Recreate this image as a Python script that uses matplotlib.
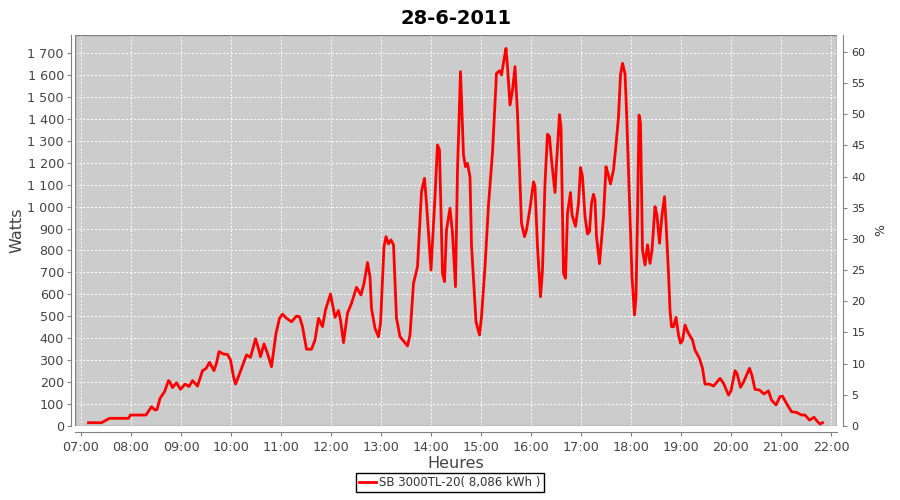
import matplotlib
matplotlib.use('Agg')
import matplotlib.pyplot as plt
from matplotlib.ticker import FuncFormatter, MultipleLocator

plt.rcParams['font.family'] = ['DejaVu Sans']

titre = '28-6-2011'
serie = 'SB 3000TL-20( 8,086 kWh )'

# heures decimales / watts
heures = [7.15, 7.41, 7.57, 7.95, 7.99, 8.30, 8.41, 8.48, 8.52, 8.58, 8.67, 8.75, 8.78,
          8.83, 8.91, 8.99, 9.08, 9.16, 9.23, 9.33, 9.43, 9.50, 9.57, 9.66, 9.71, 9.76,
          9.85, 9.93, 9.99, 10.05, 10.09, 10.15, 10.25, 10.31, 10.39, 10.49, 10.54, 10.59,
          10.66, 10.73, 10.81, 10.90, 10.97, 11.03, 11.11, 11.21, 11.31, 11.37, 11.43, 11.51,
          11.61, 11.68, 11.75, 11.83, 11.89, 11.99, 12.08, 12.15, 12.19, 12.25, 12.33, 12.41,
          12.51, 12.60, 12.66, 12.73, 12.78, 12.81, 12.88, 12.95, 12.99, 13.06, 13.10, 13.15,
          13.20, 13.25, 13.31, 13.38, 13.53, 13.58, 13.65, 13.73, 13.81, 13.87, 13.91, 14.00,
          14.08, 14.13, 14.17, 14.23, 14.27, 14.31, 14.38, 14.43, 14.49, 14.53, 14.59, 14.65,
          14.69, 14.73, 14.78, 14.81, 14.90, 14.97, 15.01, 15.08, 15.15, 15.23, 15.31, 15.37,
          15.41, 15.47, 15.50, 15.53, 15.58, 15.63, 15.68, 15.73, 15.81, 15.87, 15.91, 15.98,
          16.05, 16.08, 16.13, 16.19, 16.23, 16.28, 16.33, 16.37, 16.41, 16.48, 16.51, 16.57,
          16.60, 16.65, 16.69, 16.73, 16.79, 16.82, 16.89, 16.95, 16.99, 17.03, 17.08, 17.13,
          17.17, 17.21, 17.25, 17.28, 17.31, 17.37, 17.45, 17.50, 17.54, 17.59, 17.65, 17.70,
          17.75, 17.79, 17.83, 17.88, 17.91, 17.97, 18.02, 18.07, 18.10, 18.13, 18.16, 18.19,
          18.23, 18.28, 18.33, 18.38, 18.42, 18.48, 18.52, 18.57, 18.62, 18.67, 18.70, 18.75,
          18.78, 18.81, 18.85, 18.90, 18.95, 18.99, 19.03, 19.08, 19.15, 19.23, 19.28, 19.37,
          19.43, 19.48, 19.57, 19.65, 19.78, 19.85, 19.95, 20.00, 20.08, 20.12, 20.19, 20.25,
          20.37, 20.42, 20.48, 20.57, 20.66, 20.75, 20.81, 20.90, 20.98, 21.03, 21.11, 21.21,
          21.31, 21.41, 21.48, 21.57, 21.66, 21.73, 21.78, 21.83]
watts = [15, 15, 35, 35, 50, 50, 88, 73, 75, 126, 156, 207, 200,
         175, 197, 167, 191, 180, 207, 182, 252, 262, 290, 252, 286, 339,
         328, 326, 301, 225, 191, 225, 286, 324, 313, 397, 361, 316,
         374, 331, 270, 422, 491, 510, 491, 475, 501, 498, 453, 350,
         350, 392, 491, 453, 529, 602, 495, 526, 483, 380, 514, 559,
         632, 597, 650, 745, 680, 536, 445, 407, 468, 817, 863, 830,
         848, 826, 491, 407, 365, 415, 650, 726, 1068, 1129, 1015, 711,
         1045, 1281, 1258, 696, 658, 893, 992, 878, 635, 1167, 1615, 1235,
         1182, 1197, 1136, 825, 475, 415, 498, 726, 1007, 1246, 1607, 1619,
         1600, 1683, 1721, 1638, 1463, 1531, 1638, 1425, 924, 863, 893, 992,
         1113, 1091, 817, 589, 711, 1106, 1330, 1319, 1212, 1064, 1197, 1419,
         1364, 696, 673, 970, 1064, 962, 910, 1015, 1178, 1136, 954, 875,
         886, 1015, 1056, 1030, 863, 740, 954, 1182, 1150, 1103, 1167, 1281,
         1410, 1600, 1653, 1607, 1440, 1030, 681, 506, 589, 954, 1417, 1380,
         802, 734, 826, 741, 800, 1000, 960, 833, 960, 1045, 930, 696,
         529, 453, 452, 495, 415, 377, 390, 460, 422, 392, 346, 308,
         263, 191, 191, 182, 217, 195, 141, 160, 252, 240, 176, 200,
         263, 230, 167, 164, 146, 160, 118, 96, 134, 136, 103, 65,
         62, 50, 50, 27, 40, 20, 9, 15]

fig = plt.figure(figsize=(9, 5), dpi=100)
ax = fig.add_axes([75 / 900, 74 / 500, 762 / 900, 391 / 500])
ax.set_facecolor('#cccccc')

ax.plot(heures, watts, color='#ff0000', linewidth=2.0, label=serie, solid_joinstyle='round')

ax.set_xlim(6.88, 22.12)
ax.set_ylim(0, 1782)
ax.xaxis.set_major_locator(MultipleLocator(1))
ax.xaxis.set_major_formatter(FuncFormatter(lambda v, p: '%02d:00' % int(round(v))))
ax.yaxis.set_major_locator(MultipleLocator(100))
ax.yaxis.set_major_formatter(FuncFormatter(lambda v, p: '{:,}'.format(int(v)).replace(',', ' ')))
ax.grid(True, color='white', linestyle=(0, (2, 2)), linewidth=0.7)
ax.set_axisbelow(True)

for s in ['top', 'right']:
    ax.spines[s].set_visible(False)
ax.spines['left'].set_position(('outward', 3))
ax.spines['bottom'].set_position(('outward', 4))
for s in ['left', 'bottom']:
    ax.spines[s].set_color('#808080')
ax.tick_params(axis='both', colors='#808080', labelcolor='#444444', labelsize=9.2, length=3)
ax.tick_params(axis='y', pad=2)

ax.set_xlabel('Heures', fontsize=11.5, color='#444444', labelpad=2)
ax.set_ylabel('Watts', fontsize=11.5, color='#444444')
ax.yaxis.set_label_coords(-0.066, 0.5)
ax.set_title(titre, fontsize=14, fontweight='bold', pad=8)

# axe de droite en %
ax2 = ax.twinx()
ax2.set_ylim(0, 62.7)
ax2.yaxis.set_major_locator(MultipleLocator(5))
for s in ['top', 'left', 'bottom']:
    ax2.spines[s].set_visible(False)
ax2.spines['right'].set_position(('outward', 4))
ax2.spines['right'].set_color('#808080')
ax2.tick_params(axis='y', colors='#808080', labelcolor='#333333', labelsize=8, length=3)
ax2.set_ylabel('%', fontsize=9, color='#333333', labelpad=6)

# cadre du graphique
ax.add_patch(plt.Rectangle((0, 0), 1, 1, transform=ax.transAxes, fill=False,
                           edgecolor='#808080', linewidth=1, zorder=5))

leg = fig.legend(loc='lower center', bbox_to_anchor=(0.5, 0.005), fontsize=8.5,
                 fancybox=False, edgecolor='black', framealpha=1, handlelength=1.4,
                 borderpad=0.25, handletextpad=0.3)
leg.get_frame().set_linewidth(1)
for t in leg.get_texts():
    t.set_color('#333333')

fig.savefig('out.png', dpi=100, facecolor='white')
